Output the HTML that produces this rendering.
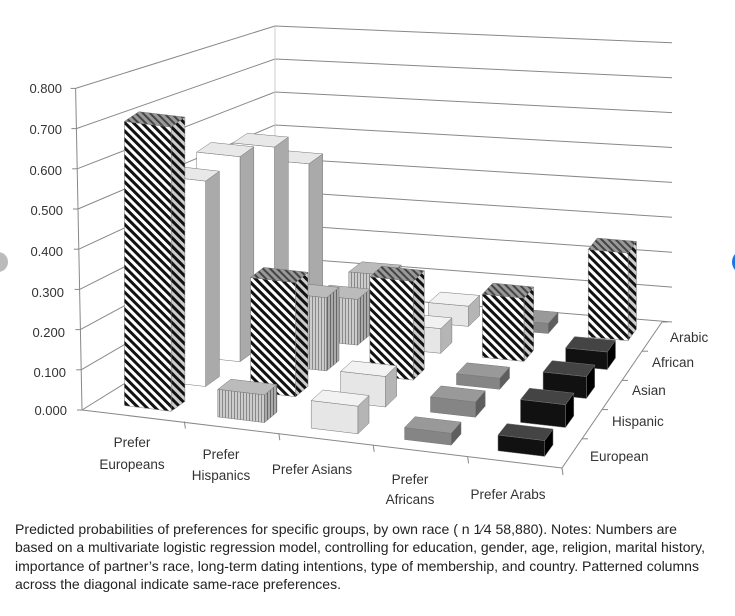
<!DOCTYPE html>
<html><head><meta charset="utf-8"><style>
html,body{margin:0;padding:0;background:#fff;}
svg{display:block;font-family:"Liberation Sans",sans-serif;}
</style></head><body>
<svg id="s" width="735" height="616" viewBox="0 0 735 616" xmlns="http://www.w3.org/2000/svg">
<defs>
<pattern id="st" width="6" height="6" patternUnits="userSpaceOnUse" patternTransform="rotate(-45)">
<rect width="6" height="6" fill="#fff"/><rect width="3" height="6" fill="#111"/></pattern>
<pattern id="st2" width="6" height="6" patternUnits="userSpaceOnUse" patternTransform="rotate(-45)">
<rect width="6" height="6" fill="#ccc"/><rect width="3" height="6" fill="#111"/></pattern>
<pattern id="st3" width="5" height="5" patternUnits="userSpaceOnUse" patternTransform="rotate(-45)">
<rect width="5" height="5" fill="#999"/><rect width="2" height="5" fill="#444"/></pattern>
<pattern id="vl" width="3" height="3" patternUnits="userSpaceOnUse">
<rect width="3" height="3" fill="#ccc"/><rect width="1" height="3" fill="#888"/></pattern>
<pattern id="vl2" width="3" height="3" patternUnits="userSpaceOnUse">
<rect width="3" height="3" fill="#aaa"/><rect width="1" height="3" fill="#666"/></pattern>
</defs>
<circle cx="-2" cy="262" r="10" fill="#bbb"/>
<circle cx="744" cy="262" r="12" fill="#1a73e8"/>
<g id="g"></g>
<g fill="#333" font-size="13" text-anchor="end">
<text x="62" y="93">0.800</text><text x="62" y="134">0.700</text><text x="62" y="175">0.600</text>
<text x="63" y="215">0.500</text><text x="63" y="256">0.400</text><text x="64" y="297">0.300</text>
<text x="65" y="337">0.200</text><text x="66" y="377">0.100</text><text x="67" y="415">0.000</text>
</g>
<g fill="#333" font-size="13.5" text-anchor="middle">
<text x="132" y="447">Prefer</text><text x="132" y="469">Europeans</text>
<text x="221" y="459">Prefer</text><text x="221" y="480">Hispanics</text>
<text x="312" y="474">Prefer Asians</text>
<text x="410" y="484">Prefer</text><text x="410" y="504">Africans</text>
<text x="508" y="499">Prefer Arabs</text>
</g>
<g fill="#333" font-size="13.5">
<text x="670" y="342">Arabic</text><text x="652" y="367">African</text>
<text x="632" y="395">Asian</text><text x="612" y="426">Hispanic</text>
<text x="590" y="461">European</text>
</g>
<g fill="#222" font-size="14">
<text x="15" y="534" textLength="662" lengthAdjust="spacingAndGlyphs">Predicted probabilities of preferences for specific groups, by own race ( n 1⁄4 58,880). Notes: Numbers are</text>
<text x="15" y="552" textLength="690" lengthAdjust="spacingAndGlyphs">based on a multivariate logistic regression model, controlling for education, gender, age, religion, marital history,</text>
<text x="15" y="571" textLength="684" lengthAdjust="spacingAndGlyphs">importance of partner’s race, long-term dating intentions, type of membership, and country. Patterned columns</text>
<text x="15" y="589" textLength="326" lengthAdjust="spacingAndGlyphs">across the diagonal indicate same-race preferences.</text>
</g>
</svg>
<script>
var g=document.getElementById('g'),NS='http://www.w3.org/2000/svg';
function el(t,a){var e=document.createElementNS(NS,t);for(var k in a)e.setAttribute(k,a[k]);g.appendChild(e);return e;}
var A=[90,410],B=[562,468],C=[662,322],D=[275,290];
function L(p,q,t){return [p[0]+(q[0]-p[0])*t,p[1]+(q[1]-p[1])*t];}
function P(u,w){return L(L(A,B,u),L(D,C,u),w);}
function S(w){return 402+(330-402)*w;}
function pts(a){return a.map(function(p){return p[0].toFixed(1)+','+p[1].toFixed(1)}).join(' ');}
for(var i=0;i<=8;i++){var v=i/10;
 var l=[82-i*0.8,410-402*v],d=[275,290-330*v],r=[672,322-349*v];
 el('polyline',{points:pts([l,d,r]),fill:'none',stroke:'#888','stroke-width':1});
 el('line',{x1:l[0]-5,y1:l[1],x2:l[0],y2:l[1],stroke:'#888'});}
el('line',{x1:75.6,y1:88,x2:82,y2:410,stroke:'#888'});
el('line',{x1:275,y1:26,x2:275,y2:290,stroke:'#ccc'});
el('polyline',{points:pts([[82,410],B,C]),fill:'none',stroke:'#888','stroke-width':1});
for(var i=1;i<=5;i++){var p=P(i/5,0);el('line',{x1:p[0],y1:p[1],x2:p[0]+1,y2:p[1]+7,stroke:'#888'});
 var q=P(1,i/5);el('line',{x1:q[0],y1:q[1],x2:q[0]+6,y2:q[1],stroke:'#888'});}
var V=[[0.72,0.07,0.07,0.03,0.04],[0.54,0.30,0.08,0.04,0.06],[0.56,0.20,0.27,0.03,0.06],[0.54,0.13,0.07,0.18,0.05],[0.44,0.13,0.06,0.03,0.26]];
var sty=[['#fff','#aaa','#e8e8e8'],['url(#vl)','url(#vl2)','#bbb'],['#e6e6e6','#b5b5b5','#f2f2f2'],['#858585','#5e5e5e','#999'],['#111','#000','#444']];
for(var r=4;r>=0;r--){for(var c=0;c<5;c++){
 var u=0.1+0.2*c,w=0.1+0.2*r,v=V[r][c],h=v*S(w);
 var u0=u-0.05,u1=u+0.05,w0=w-0.04,w1=w+0.04;
 var f0=P(u0,w0),f1=P(u1,w0),b1=P(u1,w1),b0=P(u0,w1);
 function up(p){return [p[0],p[1]-h];}
 var s=sty[c],ff=s[0],sf=s[1],tf=s[2];
 if(r==c){ff='url(#st)';sf='url(#st2)';tf='url(#st3)';}
 el('polygon',{points:pts([f1,b1,up(b1),up(f1)]),fill:sf,stroke:'#777','stroke-width':0.5});
 el('polygon',{points:pts([f0,f1,up(f1),up(f0)]),fill:ff,stroke:'#777','stroke-width':0.5});
 el('polygon',{points:pts([up(f0),up(f1),up(b1),up(b0)]),fill:tf,stroke:'#777','stroke-width':0.5});
}}
</script>
</body></html>
